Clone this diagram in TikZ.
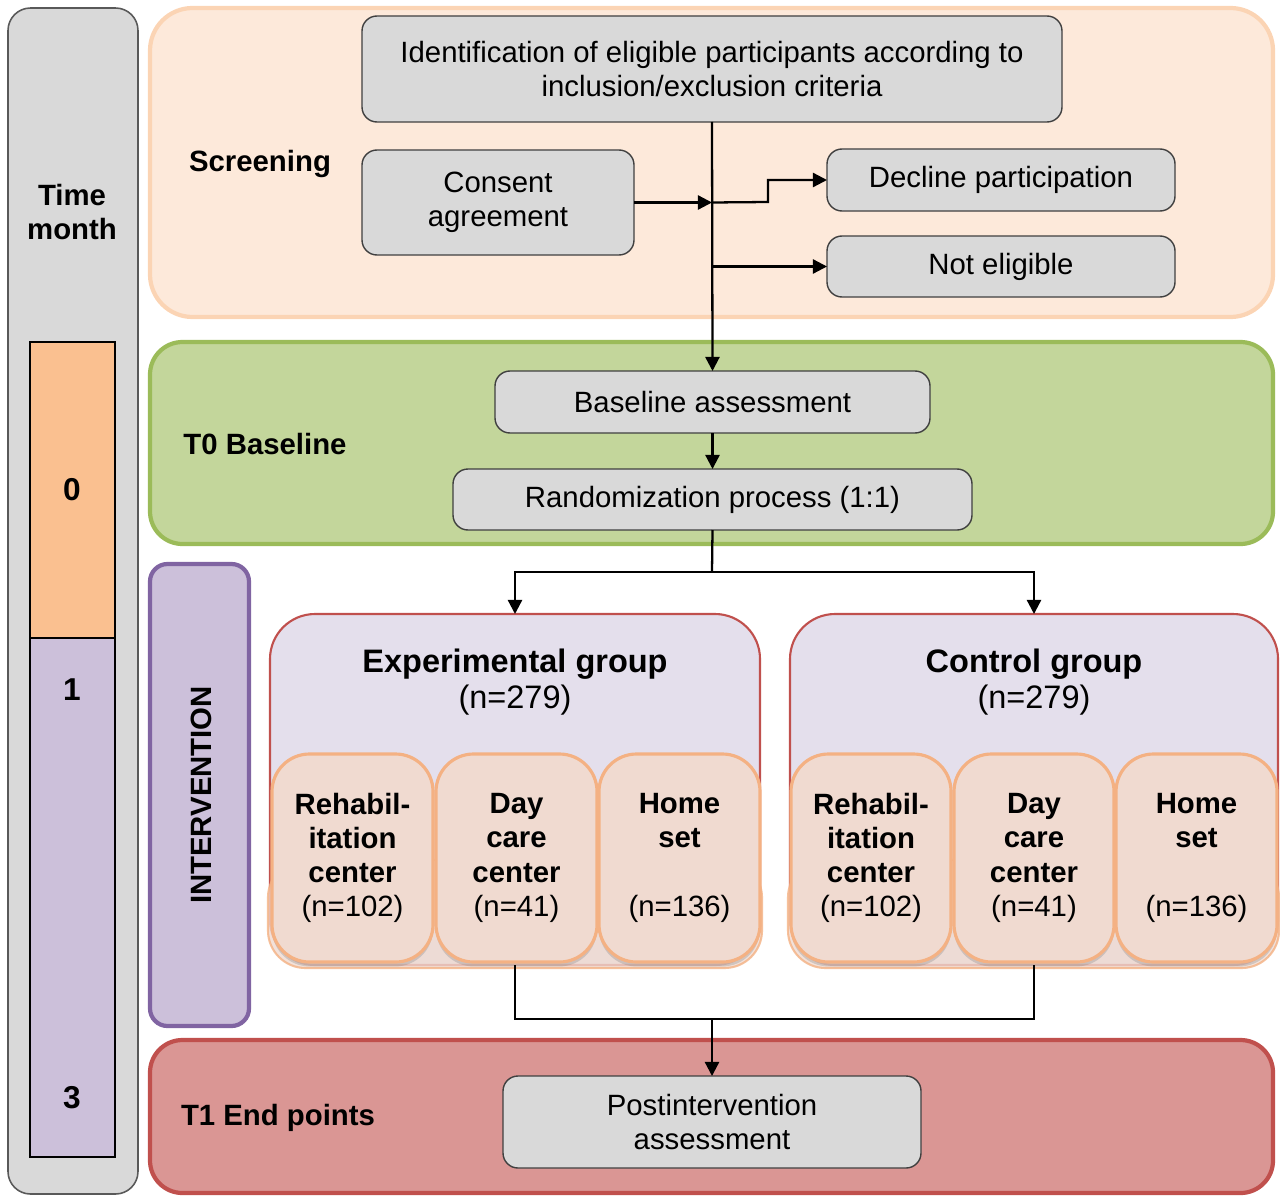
\documentclass[tikz,border=0pt]{standalone}
\usepackage{fontspec}
\setmainfont{Liberation Sans}
\usetikzlibrary{arrows.meta,shadows}
\definecolor{boxgray}{HTML}{D9D9D9}
\definecolor{boxline}{HTML}{404040}
\definecolor{timeline}{HTML}{595959}
\definecolor{orangefill}{HTML}{FAC090}
\definecolor{purplefill}{HTML}{CCC0DA}
\definecolor{purpleline}{HTML}{8064A2}
\definecolor{scrfill}{HTML}{FDE9DA}
\definecolor{scrline}{HTML}{FBD4B4}
\definecolor{basefill}{HTML}{C3D69B}
\definecolor{baseline}{HTML}{9BBB59}
\definecolor{grpfill}{HTML}{E4DFEC}
\definecolor{redline}{HTML}{C0504D}
\definecolor{subfill}{HTML}{F0DAD0}
\definecolor{subline}{HTML}{F4B183}
\definecolor{endfill}{HTML}{DA9694}
\begin{document}
\begin{tikzpicture}[x=0.02cm,y=-0.02cm,
  font=\fontsize{16.7}{19.5}\selectfont,
  area/.style n args={4}{minimum width={(#3-#1)*0.02cm}, minimum height={(#4-#2)*0.02cm},
     at={({(#1+#3)/2},{(#2+#4)/2})}, inner sep=0pt, outer sep=0pt},
  graybox/.style={draw=boxline, fill=boxgray, line width=0.8pt, rounded corners=0.3cm, align=center},
  panel/.style={line width=2.4pt},
  subbox/.style={draw=subline, fill=subfill, line width=1.8pt, rounded corners=0.75cm, align=center,
     drop shadow={shadow xshift=0pt, shadow yshift=-2.5pt, opacity=0.3}},
  grpbox/.style={draw=redline, fill=grpfill, line width=1.2pt, rounded corners=0.9cm},
  conn/.style={line width=1.3pt},
  arr/.style={line width=1.3pt, -{Triangle[length=8pt,width=8pt]}},
  lbl/.style={font=\fontsize{16.7}{19.5}\selectfont\bfseries, align=center}
]
\useasboundingbox (0,0) rectangle (1280,1196);

% time bar
\node[area={8}{8}{138}{1194}, draw=timeline, fill=boxgray, line width=0.9pt, rounded corners=0.45cm] (timebar) {};
\node[lbl] (timelbl) at (72,212) {Time\\month};
\node[area={30}{342}{115}{638}, draw=black, fill=orangefill, line width=0.6pt] (m0) {};
\node[area={30}{638}{115}{1157}, draw=black, fill=purplefill, line width=0.6pt] (m13) {};
\node[lbl, font=\fontsize{18}{20}\selectfont\bfseries] (n0) at (72,490) {0};
\node[lbl, font=\fontsize{18}{20}\selectfont\bfseries] (n1) at (72,690) {1};
\node[lbl, font=\fontsize{18}{20}\selectfont\bfseries] (n3) at (72,1098) {3};

% panels
\node[panel, area={150}{8}{1273}{317}, draw=scrline, fill=scrfill, rounded corners=0.85cm] (screen) {};
\node[panel, area={150}{342}{1273}{544}, draw=baseline, fill=basefill, rounded corners=0.65cm] (basep) {};
\node[panel, area={150}{564}{249}{1026}, draw=purpleline, fill=purplefill, rounded corners=0.35cm] (interv) {};
\node[panel, area={150}{1040}{1273}{1193}, draw=redline, fill=endfill, rounded corners=0.65cm] (endp) {};

\node[lbl] (scrlbl) at (260,164) {Screening};
\node[lbl] (baselbl) at (265,444) {T0 Baseline};
\node[lbl, rotate=90] (intlbl) at (201,795) {INTERVENTION};
\node[lbl] (endlbl) at (278,1118) {T1 End points};

% screening boxes
\node[graybox, area={362}{16}{1062}{122}] (ident) {Identification of eligible participants according to\\inclusion/exclusion criteria};
\node[graybox, area={362}{150}{634}{255}] (consent) {Consent\\agreement};
\node[graybox, area={827}{149}{1175}{211}] (decline) {Decline participation};
\node[graybox, area={827}{236}{1175}{297}] (notel) {Not eligible};

% baseline boxes
\node[graybox, area={495}{371}{930}{433}] (baseas) {Baseline assessment};
\node[graybox, area={453}{469}{972}{530}] (rand) {Randomization process (1:1)};

% groups
\node[grpbox, area={270}{614}{760}{965}] (exp) {};
\node[grpbox, area={790}{614}{1278}{965}] (ctrl) {};
\node[align=center, font=\fontsize{18.5}{20.5}\selectfont] (exptitle) at (515,682) {\textbf{Experimental group}\\(n=279)};
\node[align=center, font=\fontsize{18.5}{20.5}\selectfont] (ctrltitle) at (1034,682) {\textbf{Control group}\\(n=279)};

% row backgrounds
\node[area={268}{860}{762}{968}, draw=subline, fill=subfill, line width=1.2pt, rounded corners=0.75cm, opacity=0.8] (exprow) {};
\node[area={788}{860}{1279}{968}, draw=subline, fill=subfill, line width=1.2pt, rounded corners=0.75cm, opacity=0.8] (ctrlrow) {};

% sub boxes experimental
\node[subbox, area={272}{754}{433}{962}] (e1) {\textbf{Rehabil-}\\\textbf{itation}\\\textbf{center}\\(n=102)};
\node[subbox, area={436}{754}{597}{962}] (e2) {\textbf{Day}\\\textbf{care}\\\textbf{center}\\(n=41)};
\node[subbox, area={599}{754}{760}{962}] (e3) {\textbf{Home}\\\textbf{set}\\\mbox{}\\(n=136)};
% sub boxes control
\node[subbox, area={791}{754}{951}{962}] (c1) {\textbf{Rehabil-}\\\textbf{itation}\\\textbf{center}\\(n=102)};
\node[subbox, area={954}{754}{1114}{962}] (c2) {\textbf{Day}\\\textbf{care}\\\textbf{center}\\(n=41)};
\node[subbox, area={1116}{754}{1277}{962}] (c3) {\textbf{Home}\\\textbf{set}\\\mbox{}\\(n=136)};

% end box
\node[graybox, area={503}{1076}{921}{1168}] (post) {Postintervention\\assessment};

% connectors
\coordinate (j1) at (ident.south |- consent.east);
\coordinate (j2) at (ident.south |- notel.west);
\coordinate (j3) at (768,202);
\draw[arr] (ident.south) -- (baseas.north);
\draw[arr] (consent.east) -- (j1);
\draw[arr] (j1) -- (j3) |- (decline.west);
\draw[arr] (j2) -- (notel.west);
\draw[arr] (baseas.south) -- (rand.south |- rand.north);
\coordinate (split) at (712,572);
\draw[conn] (rand.south) -- (split);
\draw[arr] (split) -| (exp.north);
\draw[arr] (split) -| (ctrl.north);
\coordinate (merge) at (712,1019);
\draw[conn] (exp.south) -- (exp.south |- merge) -- (ctrl.south |- merge) -- (ctrl.south);
\draw[arr] (merge) -- (post.north);
\end{tikzpicture}
\end{document}
